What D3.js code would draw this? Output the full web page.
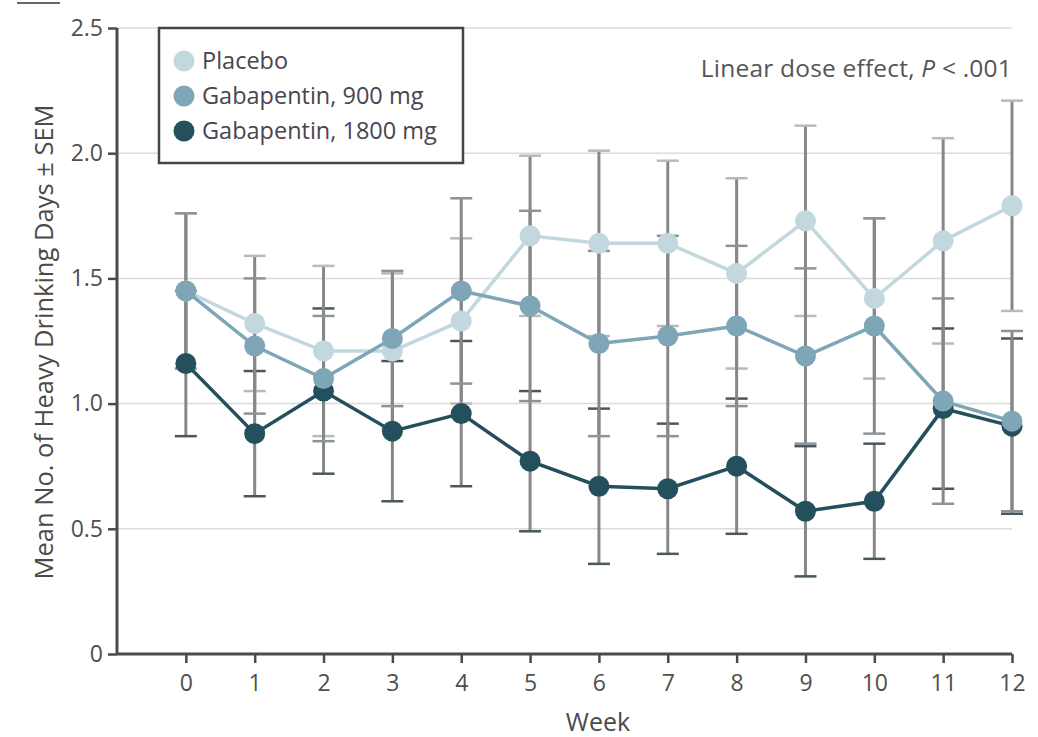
<!DOCTYPE html>
<html>
<head>
<meta charset="utf-8">
<script src="https://cdn.jsdelivr.net/npm/d3@7"></script>
<style>
  body { margin: 0; background: #fff; }
  text { font-family: "Open Sans", "DejaVu Sans", sans-serif; }
</style>
</head>
<body>
<div id="chart"></div>
<script>
// weekly means and SEMs
const weeks = [0, 1, 2, 3, 4, 5, 6, 7, 8, 9, 10, 11, 12];
const yTicks = [0, 0.5, 1.0, 1.5, 2.0, 2.5];
const yTickLabels = ["0", "0.5", "1.0", "1.5", "2.0", "2.5"];

const placebo     = [1.45, 1.32, 1.21, 1.21, 1.33, 1.67, 1.64, 1.64, 1.52, 1.73, 1.42, 1.65, 1.79];
const placeboSem  = [0.31, 0.27, 0.34, 0.31, 0.33, 0.32, 0.37, 0.33, 0.38, 0.38, 0.32, 0.41, 0.42];
const gaba900     = [1.45, 1.23, 1.10, 1.26, 1.45, 1.39, 1.24, 1.27, 1.31, 1.19, 1.31, 1.01, 0.93];
const gaba900Sem  = [0.31, 0.27, 0.25, 0.27, 0.37, 0.38, 0.37, 0.40, 0.32, 0.35, 0.43, 0.41, 0.36];
const gaba1800    = [1.16, 0.88, 1.05, 0.89, 0.96, 0.77, 0.67, 0.66, 0.75, 0.57, 0.61, 0.98, 0.91];
const gaba1800Sem = [0.29, 0.25, 0.33, 0.28, 0.29, 0.28, 0.31, 0.26, 0.27, 0.26, 0.23, 0.32, 0.35];

const seriesNames = ["Placebo", "Gabapentin, 900 mg", "Gabapentin, 1800 mg"];

const series = [
  { name: seriesNames[2], vals: gaba1800, sem: gaba1800Sem, color: "#244f5c", cap: "#4a585d" },
  { name: seriesNames[0], vals: placebo,  sem: placeboSem,  color: "#c3d7df", cap: "#b6bbbe" },
  { name: seriesNames[1], vals: gaba900,  sem: gaba900Sem,  color: "#7ea6b6", cap: "#8b9498" }
];

const width = 1038, height = 737;
const margin = { top: 28, right: 25, bottom: 83, left: 117 };

const svg = d3.select("#chart").append("svg")
    .attr("width", width)
    .attr("height", height);

const x = d3.scaleLinear()
    .domain([-1, 12])
    .range([margin.left, 1012]);

const y = d3.scaleLinear()
    .domain([0, 2.5])
    .range([height - margin.bottom, margin.top]);

// small rule at top-left corner of the source figure
svg.append("line")
    .attr("x1", 17).attr("x2", 60)
    .attr("y1", 3).attr("y2", 3)
    .attr("stroke", "#666").attr("stroke-width", 2);

// gridlines
svg.append("g")
  .selectAll("line")
  .data(yTicks.filter(d => d > 0))
  .enter().append("line")
    .attr("x1", x(-1)).attr("x2", x(12))
    .attr("y1", d => y(d)).attr("y2", d => y(d))
    .attr("stroke", "#dcdcdc")
    .attr("stroke-width", 1.5);

// y axis
const yAxis = svg.append("g")
    .attr("transform", "translate(" + margin.left + ",0)")
    .call(d3.axisLeft(y).tickValues(yTicks).tickFormat((d, i) => yTickLabels[i]).tickSize(9).tickPadding(5));

// x axis
const xAxis = svg.append("g")
    .attr("transform", "translate(0," + y(0) + ")")
    .call(d3.axisBottom(x).tickValues(weeks).tickFormat(d3.format("d")).tickSize(9).tickPadding(12));

[yAxis, xAxis].forEach(function(ax) {
  ax.select(".domain").attr("stroke", "#4a4a4a").attr("stroke-width", 3);
  ax.selectAll(".tick line").attr("stroke", "#4a4a4a").attr("stroke-width", 2.5);
  ax.selectAll(".tick text")
    .attr("fill", "#4f4f4f")
    .style("font-size", "23px");
});
xAxis.select(".domain").attr("d", "M" + x(-1) + ",0H" + x(12));
yAxis.select(".domain").attr("d", "M0," + y(0) + "V" + y(2.5));

// error bars
const capHalf = 11;
series.forEach(function(s) {
  const g = svg.append("g").attr("class", "errbars");
  g.selectAll(".stem")
    .data(weeks)
    .enter().append("line")
      .attr("class", "stem")
      .attr("x1", d => x(d)).attr("x2", d => x(d))
      .attr("y1", (d, i) => y(s.vals[i] + s.sem[i]))
      .attr("y2", (d, i) => y(s.vals[i] - s.sem[i]))
      .attr("stroke", "#878787")
      .attr("stroke-width", 3);
  [1, -1].forEach(function(sign) {
    g.selectAll(".cap" + sign)
      .data(weeks)
      .enter().append("line")
        .attr("x1", d => x(d) - capHalf).attr("x2", d => x(d) + capHalf)
        .attr("y1", (d, i) => y(s.vals[i] + sign * s.sem[i]))
        .attr("y2", (d, i) => y(s.vals[i] + sign * s.sem[i]))
        .attr("stroke", s.cap)
        .attr("stroke-width", 2.5);
  });
});

// lines and markers
const line = d3.line()
    .x((d, i) => x(weeks[i]))
    .y(d => y(d));

series.forEach(function(s) {
  svg.append("path")
    .datum(s.vals)
    .attr("d", line)
    .attr("fill", "none")
    .attr("stroke", s.color)
    .attr("stroke-width", 3.5);

  svg.append("g").selectAll("circle")
    .data(s.vals)
    .enter().append("circle")
      .attr("cx", (d, i) => x(weeks[i]))
      .attr("cy", d => y(d))
      .attr("r", 10.5)
      .attr("fill", s.color);
});

// legend
const legendColors = ["#c3d7df", "#7ea6b6", "#244f5c"];
const legend = svg.append("g").attr("class", "legend");
legend.append("rect")
    .attr("x", 159).attr("y", 28)
    .attr("width", 304).attr("height", 135)
    .attr("fill", "#fff")
    .attr("stroke", "#444")
    .attr("stroke-width", 2.5);

const legendItems = legend.selectAll(".legend-item")
    .data(seriesNames)
    .enter().append("g")
      .attr("transform", (d, i) => "translate(184," + (61 + i * 35) + ")");

legendItems.append("circle")
    .attr("r", 10.5)
    .attr("fill", (d, i) => legendColors[i]);

legendItems.append("text")
    .attr("x", 18)
    .attr("y", 8)
    .attr("fill", "#4a4450")
    .style("font-size", "23.5px")
    .text(d => d);

// annotation
const note = svg.append("text")
    .attr("x", 1012)
    .attr("y", 77)
    .attr("text-anchor", "end")
    .attr("fill", "#555")
    .style("font-size", "24.5px")
    .style("letter-spacing", "0.2px");
note.append("tspan").text("Linear dose effect, ");
note.append("tspan").style("font-style", "italic").text("P");
note.append("tspan").text(" < .001");

// axis titles
svg.append("text")
    .attr("transform", "translate(53,342) rotate(-90)")
    .attr("text-anchor", "middle")
    .attr("fill", "#4a4a4a")
    .style("font-size", "25.5px")
    .text("Mean No. of Heavy Drinking Days ± SEM");

svg.append("text")
    .attr("x", 598)
    .attr("y", 731)
    .attr("text-anchor", "middle")
    .attr("fill", "#4a4a4a")
    .style("font-size", "25px")
    .text("Week");
</script>
</body>
</html>
